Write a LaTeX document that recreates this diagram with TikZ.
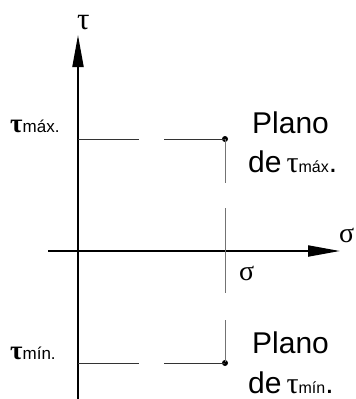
\documentclass[tikz,border=0pt]{standalone}
\usepackage{fontspec}
\setmainfont{Liberation Sans}
\newfontfamily\grk{Liberation Serif}
\usetikzlibrary{arrows.meta}
\newcommand{\mytau}[1]{{\grk\bfseries\fontsize{#1}{#1}\selectfont τ}}
\newcommand{\mytaur}[1]{{\grk\fontsize{#1}{#1}\selectfont τ}}
\begin{document}
\begin{tikzpicture}[x=1pt,y=-1pt,
  axis/.style={line width=2pt, -{Triangle[length=32pt,width=11pt]}},
  hguide/.style={line width=1pt, black!80, dash pattern=on 61pt off 25pt},
  vguide/.style={line width=1pt, black!55, dash pattern=on 44pt off 25pt on 85pt off 27pt on 42pt off 100pt},
  lbl/.style={inner sep=0pt, anchor=base west},
  big/.style={font=\fontsize{30}{30}\selectfont},
  dot/.style={circle, fill=black, inner sep=0pt, minimum size=6pt}]
\useasboundingbox (0,0) rectangle (356,399);
% axes
\coordinate (ybot) at (78,399);
\coordinate (ytop) at (78,35);
\coordinate (xl) at (48,251);
\coordinate (xr) at (340,251);
\draw[axis] (ybot) -- (ytop);
\draw[axis] (xl) -- (xr);
% points
\coordinate (amax) at (78,139);
\coordinate (amin) at (78,363);
\node[dot] (pmax) at (225,139) {};
\node[dot] (pmin) at (225,363) {};
\draw[hguide] (amax) -- (pmax.center);
\draw[hguide] (amin) -- (pmin.center);
\draw[vguide] (pmax.center) -- (pmin.center);
% labels
\node[lbl] (taux) at (77,29) {\mytaur{31}};
\node[lbl] (sigx) at (339,242) {\grk\fontsize{28}{28}\selectfont σ};
\node[lbl] (sigp) at (239,280) {\grk\fontsize{28}{28}\selectfont σ};
\node[lbl] (lmax) at (10,132) {\mytau{27}{\fontsize{17}{17}\selectfont máx.}};
\node[lbl] (lmin) at (10,359) {\mytau{27}{\fontsize{17}{17}\selectfont mín.}};
\node[lbl, big] (plmax) at (252,133) {Plano};
\node[lbl, big] (demax) at (248,172) {de\hspace{5pt}\mytaur{30}{\fontsize{16}{16}\selectfont máx}.};
\node[lbl, big] (plmin) at (252,353) {Plano};
\node[lbl, big] (demin) at (248,393) {de\hspace{5pt}\mytaur{30}{\fontsize{16}{16}\selectfont mín}.};
\end{tikzpicture}
\end{document}
